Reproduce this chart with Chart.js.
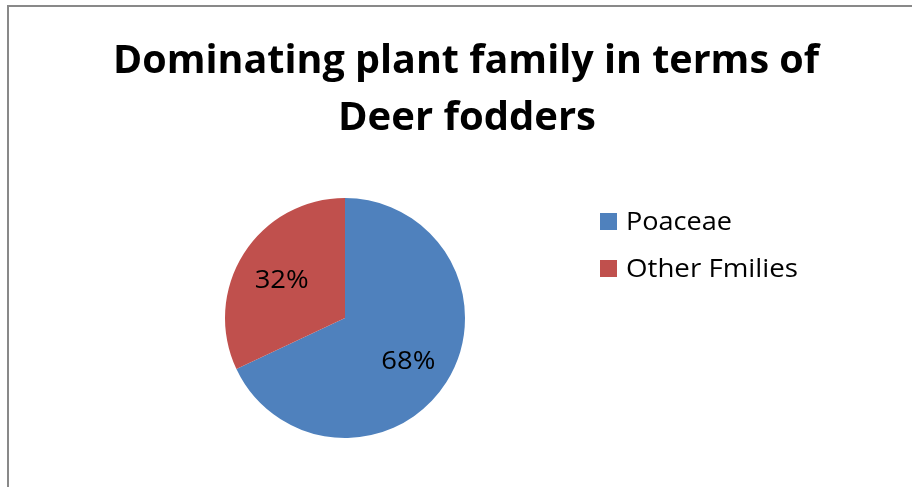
<!DOCTYPE html>
<html>
<head>
<meta charset="utf-8">
<script src="https://cdn.jsdelivr.net/npm/chart.js@4/dist/chart.umd.min.js"></script>
<style>
    html, body { margin: 0; padding: 0; background: #fff; }
    #wrap { position: relative; width: 912px; height: 487px; }
</style>
</head>
<body>
<div id="wrap"><canvas id="pieChart" width="912" height="487"></canvas></div>
<script>
// Chart data
const titleLines = ['Dominating plant family in terms of', 'Deer fodders'];
const families = ['Poaceae', 'Other Fmilies'];
const shares = [68, 32];
const sliceColors = ['#4F81BD', '#C0504D'];

const FONT = '"Open Sans", Lato, sans-serif';

// squeeze or stretch a string so it covers the width it has in the original
function fitText(ctx, text, x, y, width) {
    const w = ctx.measureText(text).width;
    ctx.save();
    ctx.translate(x, y);
    ctx.scale(width / w, 1);
    ctx.fillText(text, 0, 0);
    ctx.restore();
}

// Frame, title, slice labels and legend drawn around the pie
const decorPlugin = {
    id: 'decor',
    beforeDraw(chart) {
        const ctx = chart.ctx;
        ctx.save();
        ctx.fillStyle = '#fff';
        ctx.fillRect(0, 0, chart.width, chart.height);
        ctx.strokeStyle = '#898989';
        ctx.lineWidth = 2;
        ctx.beginPath();
        ctx.moveTo(8, chart.height);
        ctx.lineTo(8, 6);
        ctx.lineTo(chart.width, 6);
        ctx.stroke();
        ctx.restore();
    },
    afterDraw(chart) {
        const ctx = chart.ctx;
        ctx.save();

        // title
        ctx.fillStyle = '#000';
        ctx.textAlign = 'center';
        ctx.textBaseline = 'middle';
        ctx.font = 'bold 40px ' + FONT;
        fitText(ctx, titleLines[0], 466, 62, 706);
        fitText(ctx, titleLines[1], 467, 119, 258);

        // percentage labels inside slices
        const meta = chart.getDatasetMeta(0);
        const total = shares.reduce((a, b) => a + b, 0);
        ctx.font = '26px ' + FONT;
        meta.data.forEach((arc, i) => {
            const mid = (arc.startAngle + arc.endAngle) / 2;
            const r = arc.outerRadius * 0.625;
            const x = arc.x + Math.cos(mid) * r;
            const y = arc.y + Math.sin(mid) * r;
            fitText(ctx, Math.round(shares[i] / total * 100) + '%', x, y + 3, 54);
        });

        // legend
        ctx.textAlign = 'left';
        ctx.font = '25px ' + FONT;
        const legendWidths = [106, 172];
        families.forEach((name, i) => {
            const y = 221 + i * 47;
            ctx.fillStyle = sliceColors[i];
            ctx.fillRect(600, y - 8, 17, 17);
            ctx.fillStyle = '#000';
            fitText(ctx, name, 626, y + 2, legendWidths[i]);
        });
        ctx.restore();
    }
};

const chart = new Chart(document.getElementById('pieChart'), {
    type: 'pie',
    data: {
        labels: families,
        datasets: [{
            data: shares,
            backgroundColor: sliceColors,
            borderWidth: 0
        }]
    },
    options: {
        responsive: false,
        animation: false,
        layout: {
            padding: { left: 225, right: 447, top: 198, bottom: 49 }
        },
        plugins: {
            legend: { display: false },
            title: { display: false },
            tooltip: { enabled: false }
        }
    },
    plugins: [decorPlugin]
});
</script>
</body>
</html>
